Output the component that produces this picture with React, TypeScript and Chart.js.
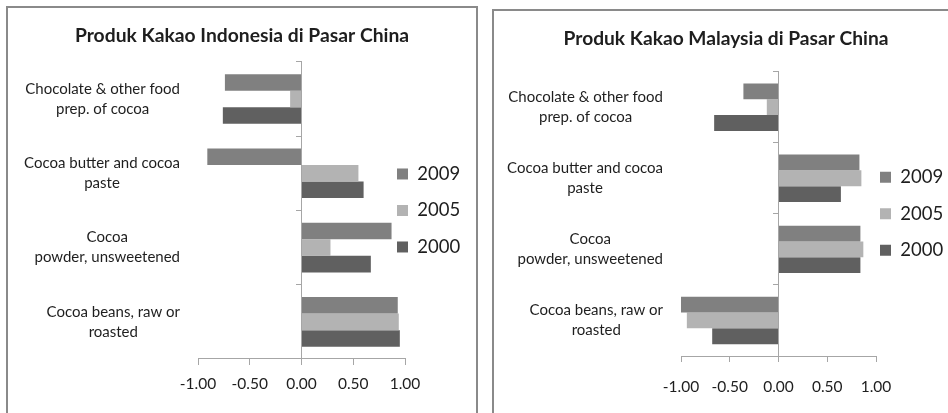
import React, { useEffect, useRef } from 'react';
import { Chart, registerables } from 'chart.js';

Chart.register(...registerables);

const categories: string[][] = [
  ['Chocolate & other food', 'prep. of cocoa'],
  ['Cocoa butter and cocoa', 'paste'],
  ['Cocoa', 'powder, unsweetened'],
  ['Cocoa beans, raw or', 'roasted'],
];

const seriesNames = ['2009', '2005', '2000'];
const seriesColors = ['#808080', '#b3b3b3', '#606060'];

const indonesia2009 = [-0.74, -0.91, 0.87, 0.93];
const indonesia2005 = [-0.11, 0.55, 0.28, 0.94];
const indonesia2000 = [-0.76, 0.6, 0.67, 0.95];

const malaysia2009 = [-0.36, 0.83, 0.84, -1.0];
const malaysia2005 = [-0.12, 0.85, 0.87, -0.94];
const malaysia2000 = [-0.66, 0.64, 0.84, -0.68];

const xTicks = [-1, -0.5, 0, 0.5, 1];

const titleIndonesia = 'Produk Kakao Indonesia di Pasar China';
const titleMalaysia = 'Produk Kakao Malaysia di Pasar China';

const FONT = "Lato, 'Open Sans', sans-serif";
const TEXT = '#1e1e1e';
const AXIS = '#a6a6a6';

const categoryLabelPlugin = {
  id: 'categoryLabels',
  afterDraw(chart: any, _args: any, opts: any) {
    const { ctx, chartArea } = chart;
    const yScale = chart.scales.y;
    const labels = chart.data.labels as any[];
    ctx.save();
    ctx.font = `${opts.size}px ${FONT}`;
    ctx.fillStyle = opts.color;
    ctx.textAlign = 'center';
    ctx.textBaseline = 'middle';
    labels.forEach((lab, i) => {
      const lines: string[] = Array.isArray(lab) ? lab : [lab];
      const w = Math.max(...lines.map((l) => ctx.measureText(l).width));
      const cx = chartArea.left - opts.gap - w / 2;
      const cy = yScale.getPixelForValue(i);
      const total = (lines.length - 1) * opts.lineHeight;
      lines.forEach((l, j) => ctx.fillText(l, cx, cy - total / 2 + j * opts.lineHeight));
    });
    ctx.restore();
  },
};

const legendShiftPlugin = {
  id: 'legendShift',
  afterLayout(chart: any, _args: any, opts: any) {
    const lg = chart.legend;
    if (lg && opts && opts.dx) {
      lg.left += opts.dx;
      lg.width -= opts.dx;
    }
  },
};

type PanelProps = {
  title: string;
  titleSize: number;
  s2009: number[];
  s2005: number[];
  s2000: number[];
  boxLeft: number;
  boxTop: number;
  canvasW: number;
  canvasH: number;
  yWidth: number;
  xHeight: number;
  xPad: number;
  legendW: number;
  legendDx: number;
  titleTop: number;
  titleBottom: number;
};

function Panel(p: PanelProps) {
  const ref = useRef<HTMLCanvasElement>(null);
  useEffect(() => {
    if (!ref.current) return;
    const values = [p.s2009, p.s2005, p.s2000];
    const chart = new Chart(ref.current, {
      type: 'bar',
      data: {
        labels: categories,
        datasets: seriesNames.map((name, i) => ({
          label: name,
          data: values[i],
          backgroundColor: seriesColors[i],
          borderColor: seriesColors[i],
          borderWidth: 0,
          categoryPercentage: 0.667,
          barPercentage: 1,
        })),
      },
      options: {
        indexAxis: 'y',
        responsive: false,
        animation: false,
        layout: { padding: 0 },
        scales: {
          x: {
            type: 'linear',
            min: -1,
            max: 1,
            afterBuildTicks: (s: any) => {
              s.ticks = xTicks.map((v) => ({ value: v }));
            },
            ticks: {
              callback: (v: any) => Number(v).toFixed(2),
              font: { family: FONT, size: 15.5 },
              color: TEXT,
              padding: p.xPad,
              maxRotation: 0,
            },
            grid: { drawOnChartArea: false, drawTicks: true, tickLength: 6, color: AXIS },
            border: { color: AXIS },
            afterFit: (s: any) => {
              s.height = p.xHeight;
            },
          },
          y: {
            type: 'category',
            position: 'left',
            offset: true,
            ticks: { display: false },
            grid: { display: false },
            border: { display: false },
            afterFit: (s: any) => {
              s.width = p.yWidth;
            },
          },
          yLine: {
            type: 'category',
            axis: 'y',
            position: { x: 0 },
            offset: true,
            ticks: { display: false },
            grid: { offset: true, drawOnChartArea: false, drawTicks: true, tickLength: 5, color: AXIS },
            border: { color: AXIS },
          },
        } as any,
        plugins: {
          title: {
            display: true,
            text: p.title,
            color: TEXT,
            font: { family: FONT, size: p.titleSize, weight: 'bold' },
            padding: { top: p.titleTop, bottom: p.titleBottom },
          },
          legend: {
            display: true,
            position: 'right',
            align: 'center',
            fullSize: false,
            maxWidth: p.legendW,
            labels: {
              boxWidth: 11,
              boxHeight: 11,
              padding: 18,
              color: TEXT,
              font: { family: FONT, size: 18.5 },
            },
          },
          tooltip: { enabled: false },
          categoryLabels: { size: 15, color: TEXT, gap: 18, lineHeight: 20 },
          legendShift: { dx: p.legendDx },
        } as any,
      },
      plugins: [categoryLabelPlugin, legendShiftPlugin],
    } as any);
    return () => chart.destroy();
  }, []);
  return (
    <div
      style={{
        position: 'absolute',
        left: p.boxLeft,
        top: p.boxTop,
        width: p.canvasW,
        height: 440,
        border: '2px solid #8a8a8a',
      }}
    >
      <canvas ref={ref} width={p.canvasW} height={p.canvasH} style={{ display: 'block' }} />
    </div>
  );
}

export default function App() {
  return (
    <div
      style={{
        position: 'absolute',
        left: 0,
        top: 0,
        width: 948,
        height: 413,
        overflow: 'hidden',
        background: '#ffffff',
      }}
    >
      <Panel
        title={titleIndonesia}
        titleSize={19.3}
        s2009={indonesia2009}
        s2005={indonesia2005}
        s2000={indonesia2000}
        boxLeft={6}
        boxTop={6}
        canvasW={468}
        canvasH={405}
        yWidth={190}
        xHeight={54}
        xPad={9.7}
        legendW={71}
        legendDx={-26}
        titleTop={16.6}
        titleBottom={14.2}
      />
      <Panel
        title={titleMalaysia}
        titleSize={19.2}
        s2009={malaysia2009}
        s2005={malaysia2005}
        s2000={malaysia2000}
        boxLeft={492}
        boxTop={9}
        canvasW={464}
        canvasH={402}
        yWidth={187}
        xHeight={57}
        xPad={15.4}
        legendW={82}
        legendDx={-14}
        titleTop={16.6}
        titleBottom={21}
      />
    </div>
  );
}
